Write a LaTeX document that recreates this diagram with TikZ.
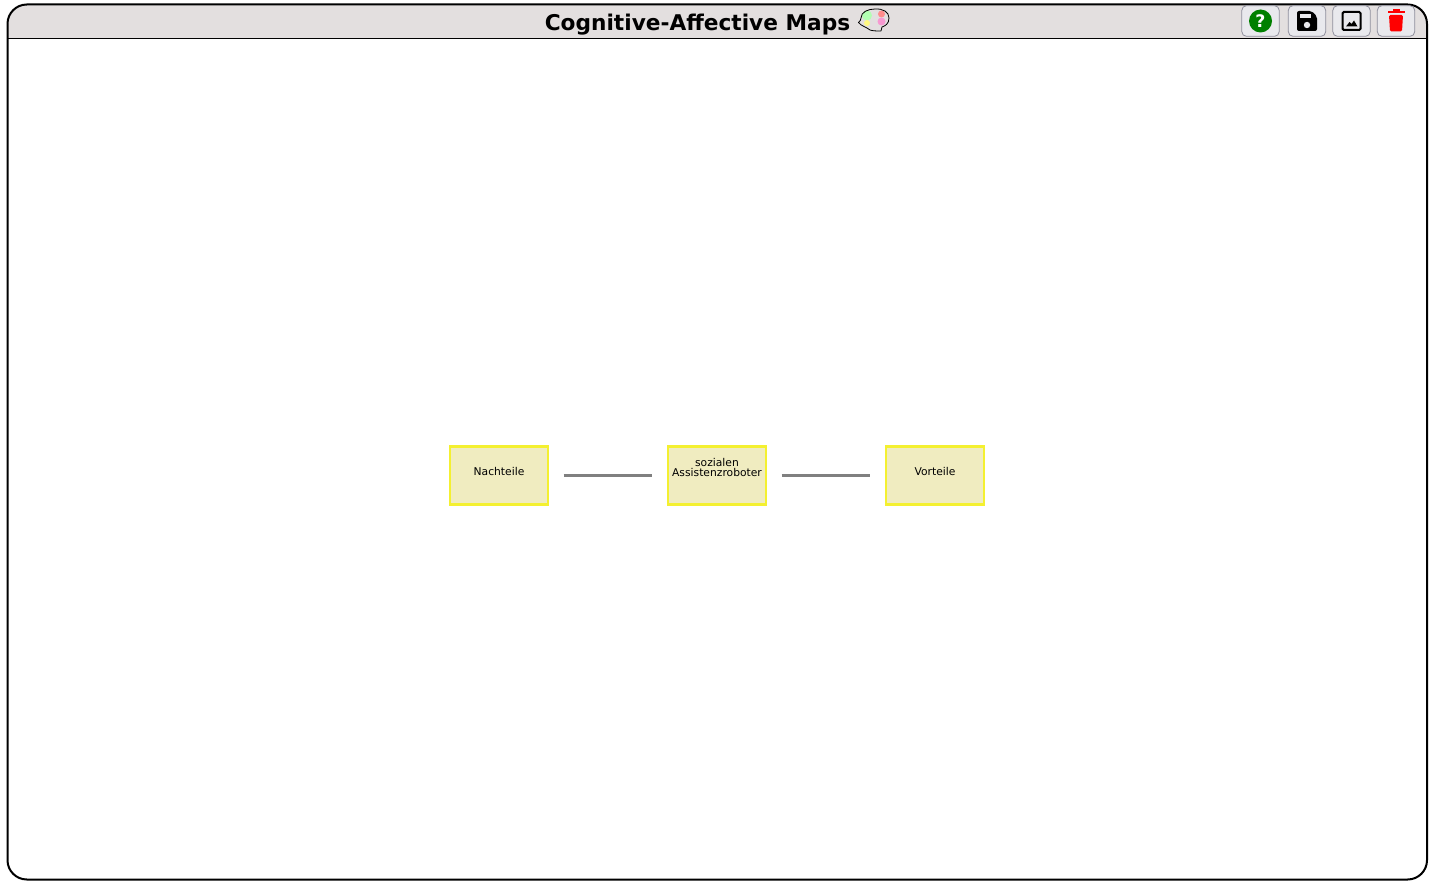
\documentclass[tikz,border=0pt]{standalone}
\usepackage{fontspec}
\setmainfont{DejaVu Sans}
\definecolor{headbg}{HTML}{E3DFDF}
\definecolor{btnbg}{HTML}{E9E9ED}
\definecolor{btnline}{HTML}{8F8F9D}
\definecolor{boxfill}{HTML}{F0ECC0}
\definecolor{boxline}{HTML}{F4F030}
\definecolor{linkgrey}{HTML}{808080}
\definecolor{okgreen}{HTML}{008000}
\tikzset{
  conceptbox/.style={draw=boxline,fill=boxfill,line width=2.1pt,minimum width=73.5pt,minimum height=43.5pt,inner sep=0pt,outer sep=0pt},
  conceptlabel/.style={font=\fontsize{8.05pt}{8.05pt}\selectfont,align=center,inner sep=0pt,text=black},
  linkline/.style={draw=linkgrey,line width=2.7pt,shorten >=11.8pt,shorten <=11.8pt},
  toolbtn/.style={draw=btnline,fill=btnbg,line width=.6pt,rounded corners=3.5pt,minimum width=28pt,minimum height=23pt,inner sep=0pt},
}
\begin{document}
\begin{tikzpicture}[x=0.75pt,y=-0.75pt]
\useasboundingbox (0,0) rectangle (1432,884);
% header
\fill[headbg,rounded corners=14.5pt] (7.5,60) rectangle (1427,4.5);
\fill[white] (7,39) rectangle (1428,70);
\draw[black,line width=.75pt] (7.5,38.5) -- (1426.5,38.5);
% frame
\draw[black,line width=1.5pt,rounded corners=14.5pt] (7.5,4.5) rectangle (1427,879.5);
% title
\node[inner sep=0pt,anchor=base] (title) at (697.5,31) {\fontsize{16.25pt}{16.25pt}\selectfont\bfseries Cognitive-Affective Maps};
% brain icon
\fill[green!30!white] (867,15.5) circle (5);
\fill[red!45!white] (881.5,14) circle (3.5);
\fill[yellow!50!white] (867,23) circle (3);
\fill[magenta!40!white] (881.5,21.5) circle (4);
\draw[black,line width=.6pt,line join=round] (870,30) .. controls (867,29) and (867,27) .. (864,26.5) .. controls (861,26) and (861,24) .. (858.5,22.5) .. controls (860,21) and (861,20) .. (861,18) .. controls (861,12) and (868,9) .. (875,9) .. controls (883,8.5) and (889,12) .. (889,18) .. controls (889,24) and (885,26) .. (882,27) -- (881,31) .. controls (877,31) and (873,31) .. (870,30) -- cycle;
% buttons
\node[toolbtn] (help) at (1260.5,21) {};
\fill[okgreen] (help.center) circle (11.5);
\node[text=white,inner sep=0pt] (helpmark) at (help.center) {\fontsize{13pt}{13pt}\selectfont\bfseries ?};
\node[toolbtn] (save) at (1307,21) {};
\fill[black,rounded corners=1.5pt] (1297,11) -- (1311.5,11) -- (1317,16.5) -- (1317,31) -- (1297,31) -- cycle;
\fill[btnbg] (1300,14) rectangle (1310.5,18.5);
\fill[btnbg] (1307,25) circle (3.2);
\node[toolbtn] (img) at (1351.5,21) {};
\draw[black,line width=1.5pt,rounded corners=1pt] (1342.5,12) rectangle (1360.5,30);
\fill[black] (1346,26.5) -- (1349.5,22) -- (1351.5,24) -- (1354,20.5) -- (1357.5,26.5) -- cycle;
\node[toolbtn] (bin) at (1396,21) {};
\fill[red] (1387.5,11) rectangle (1404.5,13.5);
\fill[red] (1392.5,9.5) rectangle (1399.5,11.5);
\fill[red,rounded corners=1pt] (1389,15) -- (1403,15) -- (1402,31.5) -- (1390,31.5) -- cycle;
% concepts
\node[conceptbox] (a) at (499,475.3) {};
\node[conceptbox] (b) at (717,475.3) {};
\node[conceptbox] (c) at (935,475.3) {};
\node[conceptlabel] (al) at (499,471.5) {Nachteile};
\node[conceptlabel] (bl) at (717,467.5) {sozialen\hspace{2pt}\\[-.6pt]Assistenzroboter};
\node[conceptlabel] (cl) at (935,471.5) {Vorteile};
% links
\draw[linkline] (a.east) -- (b.west);
\draw[linkline] (b.east) -- (c.west);
\end{tikzpicture}
\end{document}
